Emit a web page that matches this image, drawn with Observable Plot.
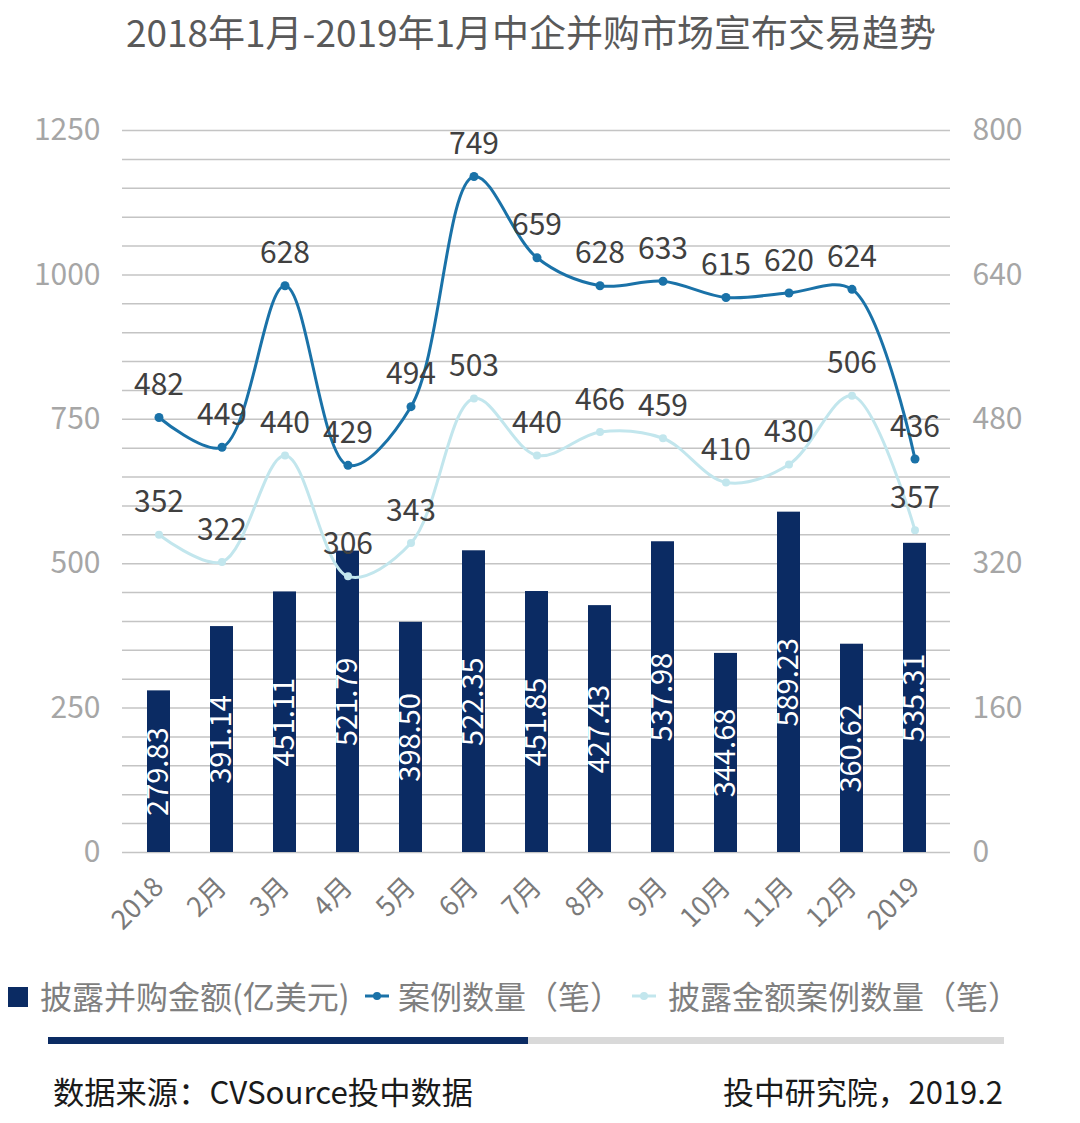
<!DOCTYPE html>
<html><head><meta charset="utf-8">
<script src="https://cdn.jsdelivr.net/npm/d3@7"></script>
<script src="https://cdn.jsdelivr.net/npm/@observablehq/plot@0.6"></script>
<style>
body{margin:0;background:#fff;font-family:"Noto Sans CJK SC","Noto Sans",sans-serif;}
#wrap{position:relative;width:1080px;height:1123px;overflow:hidden;}
#chart{position:absolute;left:0;top:0;}
#over{position:absolute;left:0;top:0;}
</style></head>
<body>
<div id="wrap"><div id="chart"></div><svg id="over" width="1080" height="1123"></svg></div>
<script>
const months = ["2018","2月","3月","4月","5月","6月","7月","8月","9月","10月","11月","12月","2019"];
const amounts = [279.83,391.14,451.11,521.79,398.50,522.35,451.85,427.43,537.98,344.68,589.23,360.62,535.31];
const cases = [482,449,628,429,494,749,659,628,633,615,620,624,436];
const disclosed = [352,322,440,306,343,503,440,466,459,410,430,506,357];
const leftTicks = [0,250,500,750,1000,1250];
const rightTicks = [0,160,320,480,640,800];
const titleText = "2018年1月-2019年1月中企并购市场宣布交易趋势";
const legendLabels = ["披露并购金额(亿美元)","案例数量（笔）","披露金额案例数量（笔）"];
const sourceText = "数据来源：CVSource投中数据";
const creditText = "投中研究院，2019.2";

const NAVY = "#0b2b63", BLUE = "#1a72a8", LIGHT = "#c2e6ed";
const k = 1250 / 800;
const data = months.map((m, i) => ({m, amount: amounts[i], cases: cases[i], disclosed: disclosed[i]}));
const font = '"Noto Sans CJK SC","Noto Sans",sans-serif';

const chart = Plot.plot({
  width: 1080, height: 960,
  marginTop: 130, marginBottom: 108, marginLeft: 122, marginRight: 130,
  style: {fontFamily: font, background: "transparent", overflow: "visible"},
  x: {domain: months, paddingInner: 0.64, paddingOuter: 0.32, label: null},
  y: {domain: [0, 1250], label: null},
  marks: [
    Plot.ruleY(d3.range(0, 1251, 50), {stroke: "#c4c4c4", strokeWidth: 1.5}),
    Plot.barY(data, {x: "m", y: "amount", fill: NAVY}),
    Plot.text(data, {x: "m", y: d => d.amount / 2, text: d => d.amount.toFixed(2), rotate: -90, fill: "white", fontSize: 29}),
    Plot.line(data, {x: "m", y: d => d.disclosed * k, curve: "catmull-rom", stroke: LIGHT, strokeWidth: 3}),
    Plot.dot(data, {x: "m", y: d => d.disclosed * k, r: 4, fill: LIGHT}),
    Plot.line(data, {x: "m", y: d => d.cases * k, curve: "catmull-rom", stroke: BLUE, strokeWidth: 3}),
    Plot.dot(data, {x: "m", y: d => d.cases * k, r: 4.5, fill: BLUE}),
    Plot.text(data, {x: "m", y: d => d.cases * k, text: d => String(d.cases), dy: -32, fontSize: 30, fill: "#404040"}),
    Plot.text(data, {x: "m", y: d => d.disclosed * k, text: d => String(d.disclosed), dy: -32, fontSize: 30, fill: "#404040"}),
    Plot.axisY(leftTicks, {anchor: "left", tickSize: 0, tickPadding: 22, fontSize: 30, color: "#a6a6a6", tickFormat: d => String(d), label: null}),
    Plot.axisY(rightTicks.map(v => v * k), {anchor: "right", tickSize: 0, tickPadding: 22, fontSize: 30, color: "#a6a6a6", tickFormat: d => String(Math.round(d / k)), label: null}),
    Plot.axisX({tickRotate: -45, tickSize: 0, tickPadding: 30, fontSize: 27, color: "#7a7a7a", label: null})
  ]
});
document.getElementById("chart").appendChild(chart);

// overlay: title, legend, divider, footer
const svg = d3.select("#over").style("font-family", font);
svg.append("text").attr("x", 531).attr("y", 47).attr("text-anchor", "middle")
  .attr("font-size", 37).attr("fill", "#595959").text(titleText);

const lg = svg.append("g");
lg.append("rect").attr("x", 8).attr("y", 987).attr("width", 20).attr("height", 20).attr("fill", NAVY);
lg.append("text").attr("x", 40).attr("y", 1009).attr("font-size", 32).attr("fill", "#7f7f7f").text(legendLabels[0]);
lg.append("line").attr("x1", 365).attr("x2", 389).attr("y1", 996).attr("y2", 996).attr("stroke", BLUE).attr("stroke-width", 3);
lg.append("circle").attr("cx", 377).attr("cy", 996).attr("r", 4).attr("fill", BLUE);
lg.append("text").attr("x", 398).attr("y", 1009).attr("font-size", 32).attr("fill", "#7f7f7f").text(legendLabels[1]);
lg.append("line").attr("x1", 632).attr("x2", 656).attr("y1", 996).attr("y2", 996).attr("stroke", LIGHT).attr("stroke-width", 3);
lg.append("circle").attr("cx", 644).attr("cy", 996).attr("r", 4).attr("fill", LIGHT);
lg.append("text").attr("x", 668).attr("y", 1009).attr("font-size", 32).attr("fill", "#7f7f7f").text(legendLabels[2]);

svg.append("rect").attr("x", 48).attr("y", 1037).attr("width", 480).attr("height", 7).attr("fill", NAVY);
svg.append("rect").attr("x", 528).attr("y", 1037).attr("width", 476).attr("height", 7).attr("fill", "#d9d9d9");

svg.append("text").attr("x", 53).attr("y", 1104).attr("font-size", 31).attr("fill", "#1a1a1a")
  .attr("textLength", 420).attr("lengthAdjust", "spacingAndGlyphs").text(sourceText);
svg.append("text").attr("x", 723).attr("y", 1104).attr("font-size", 31).attr("fill", "#1a1a1a")
  .attr("textLength", 280).attr("lengthAdjust", "spacingAndGlyphs").text(creditText);
</script>
</body></html>
